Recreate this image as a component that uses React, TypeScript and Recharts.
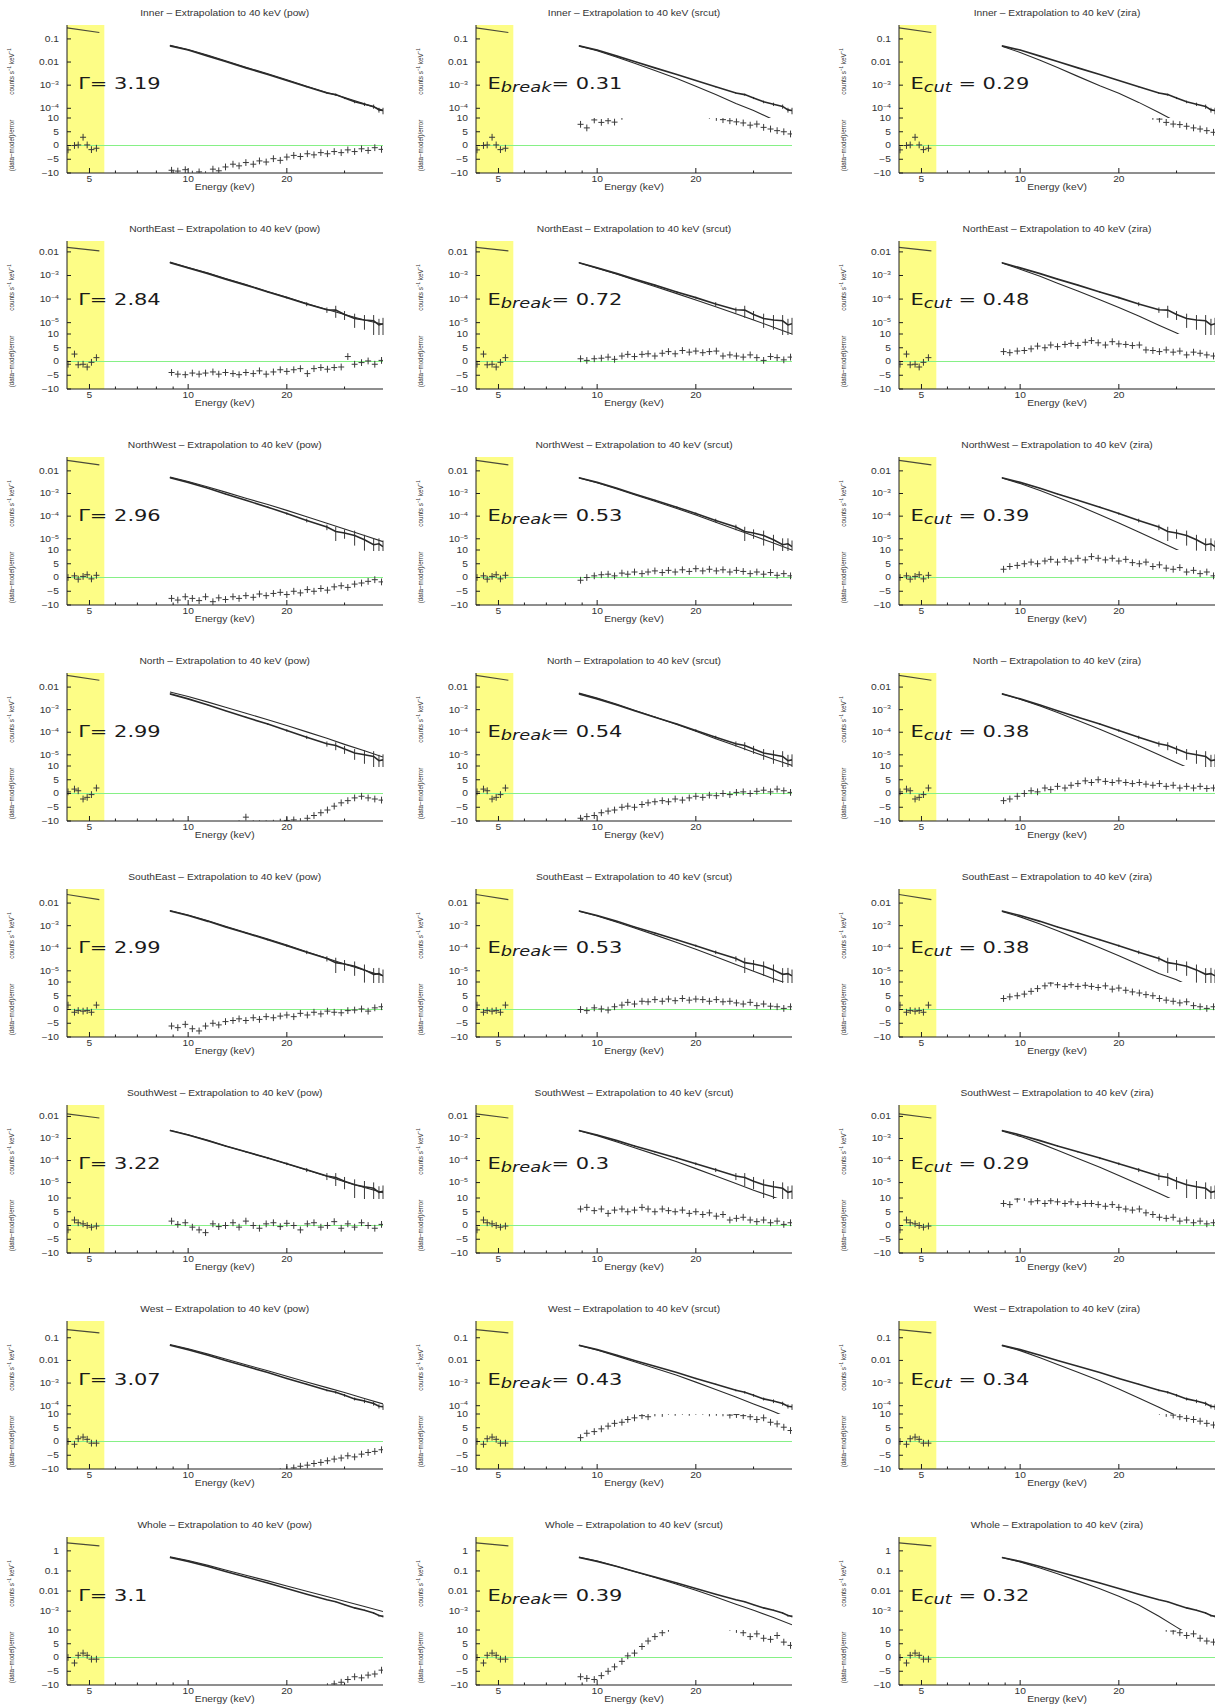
import React from 'react';
import { ComposedChart, Line, Scatter, XAxis, YAxis, ReferenceArea, ReferenceLine, ErrorBar } from 'recharts';

// ---------- categories / labels ----------
const REGIONS = ['Inner', 'NorthEast', 'NorthWest', 'North', 'SouthEast', 'SouthWest', 'West', 'Whole'];
const MODELS = ['pow', 'srcut', 'zira'];
const GAMMA = ['3.19', '2.84', '2.96', '2.99', '2.99', '3.22', '3.07', '3.1'];
const EBREAK = ['0.31', '0.72', '0.53', '0.54', '0.53', '0.3', '0.43', '0.39'];
const ECUT = ['0.29', '0.48', '0.39', '0.38', '0.38', '0.29', '0.34', '0.32'];

// ---------- energies (keV) ----------
const X_DOMAIN = [4.27, 39.3];
const X_TICKS = [5, 6, 7, 8, 9, 10, 20, 30];
const X_LABELED = [5, 10, 20];
const YELLOW_END = 5.55;
const E_DATA = [8.8, 10, 11.5, 13, 15, 17.5, 20, 23, 26.5, 28.2, 30, 32.2, 34.5, 36.8, 38.2, 39.3];
const E_MODEL = [8.8, 10, 11.5, 13, 15, 17.5, 20, 23, 26.5, 30, 34.5, 39.3];
const E_RES = [8.9, 9.3, 9.8, 10.3, 10.8, 11.3, 11.9, 12.4, 13.0, 13.7, 14.3, 15.0, 15.8, 16.5, 17.3, 18.2,
  19.1, 20.0, 21.0, 22.0, 23.1, 24.2, 25.4, 26.6, 27.9, 29.3, 30.7, 32.2, 33.8, 35.4, 37.1, 38.9];
const E_LOW_LINE = [4.27, 5.36];
const E_LOW_RES = [4.3, 4.5, 4.62, 4.78, 4.92, 5.07, 5.25];

// ---------- y axes per region ----------
const Y_DOMAIN = [[3.8e-5, 0.4], [3.3e-6, 0.029], [3.2e-6, 0.041], [3.2e-6, 0.042], [3.2e-6, 0.042], [2e-6, 0.033], [4.3e-5, 0.55], [1.15e-4, 4.9]];
const Y_TICKS = [[1e-4, 1e-3, 0.01, 0.1], [1e-5, 1e-4, 1e-3, 0.01], [1e-5, 1e-4, 1e-3, 0.01], [1e-5, 1e-4, 1e-3, 0.01],
  [1e-5, 1e-4, 1e-3, 0.01], [1e-5, 1e-4, 1e-3, 0.01], [1e-4, 1e-3, 0.01, 0.1], [1e-3, 0.01, 0.1, 1]];
const LOG_TICK_TEXT: Record<string, [string, string]> = {
  '0': ['1', ''], '-1': ['0.1', ''], '-2': ['0.01', ''], '-3': ['10', '−3'], '-4': ['10', '−4'], '-5': ['10', '−5'], '-6': ['10', '−6'],
};
const RES_TICKS = [-10, -5, 0, 5, 10];
const RES_TICK_TEXT: Record<string, string> = { '-10': '−10', '-5': '−5', '0': '0', '5': '5', '10': '10' };

// ---------- low band (yellow) ----------
const LOW_LINE = [[0.3, 0.19], [0.0155, 0.011], [0.029, 0.0185], [0.033, 0.02], [0.024, 0.0142], [0.013, 0.0085], [0.23, 0.165], [2.5, 1.78]];
const LOW_RES = [
  [-1.6, 0.0, 0.2, 3.0, 0.2, -1.5, -1.0],
  [-1.0, 2.7, -1.2, -1.0, -2.0, -0.3, 1.4],
  [0.0, 0.6, -0.6, 0.4, 1.0, -0.5, 0.8],
  [0.6, 1.6, 1.0, -2.0, -1.4, -0.4, 2.0],
  [1.6, -1.0, -0.4, -0.6, -0.4, -1.0, 1.6],
  [-1.6, 2.0, 1.0, 0.6, 0.0, -0.6, -0.2],
  [0.0, -1.0, 1.0, 1.6, 0.8, -0.6, -0.6],
  [0.0, -2.0, 0.8, 1.6, 0.8, -0.6, -0.6],
];

// ---------- spectra (counts s^-1 keV^-1) at E_DATA ----------
const DATA = [
  [0.05, 0.033, 0.018, 0.0105, 5.6e-3, 2.9e-3, 1.6e-3, 8.5e-4, 4.6e-4, 3.9e-4, 2.8e-4, 1.9e-4, 1.5e-4, 1.2e-4, 8.5e-5, 8e-5],
  [3.5e-3, 2.1e-3, 1.2e-3, 7.0e-4, 3.9e-4, 2.0e-4, 1.15e-4, 6.2e-5, 3.5e-5, 3.4e-5, 2.2e-5, 1.5e-5, 1.3e-5, 1.2e-5, 8e-6, 9e-6],
  [5e-3, 3.1e-3, 1.7e-3, 9.5e-4, 5e-4, 2.5e-4, 1.3e-4, 6.5e-5, 3.3e-5, 2.1e-5, 1.8e-5, 1.4e-5, 9e-6, 5.5e-6, 6e-6, 4.5e-6],
  [5e-3, 3.0e-3, 1.6e-3, 9e-4, 4.6e-4, 2.3e-4, 1.2e-4, 6e-5, 3.1e-5, 2.6e-5, 1.8e-5, 1.2e-5, 1e-5, 8.5e-6, 5.5e-6, 6e-6],
  [4.5e-3, 2.8e-3, 1.55e-3, 8.8e-4, 4.7e-4, 2.4e-4, 1.3e-4, 6.7e-5, 3.5e-5, 2.3e-5, 2e-5, 1.6e-5, 1.1e-5, 7e-6, 7.5e-6, 6e-6],
  [2.3e-3, 1.45e-3, 8e-4, 4.6e-4, 2.5e-4, 1.3e-4, 7.2e-5, 3.8e-5, 2.0e-5, 1.7e-5, 1.15e-5, 8e-6, 6.5e-6, 5.5e-6, 3.6e-6, 4e-6],
  [0.047, 0.03, 0.017, 0.01, 5.5e-3, 2.9e-3, 1.6e-3, 8.8e-4, 4.8e-4, 3.9e-4, 2.9e-4, 2.0e-4, 1.6e-4, 1.25e-4, 9.5e-5, 9e-5],
  [0.47, 0.3, 0.165, 0.095, 0.05, 0.025, 0.0135, 7e-3, 3.7e-3, 2.9e-3, 2.1e-3, 1.45e-3, 1.1e-3, 8e-4, 6e-4, 5.5e-4],
];
const DATA_LO = [
  [0.049, 0.032, 0.0175, 0.0102, 5.4e-3, 2.8e-3, 1.52e-3, 8.0e-4, 4.2e-4, 3.5e-4, 2.5e-4, 1.65e-4, 1.25e-4, 9.5e-5, 6.5e-5, 5.5e-5],
  [3.4e-3, 2.0e-3, 1.15e-3, 6.7e-4, 3.7e-4, 1.85e-4, 1.05e-4, 5.0e-5, 2.6e-5, 1.6e-5, 1.3e-5, 6e-6, 5e-6, 3e-6, 1.5e-6, 2e-6],
  [4.9e-3, 3.0e-3, 1.65e-3, 9.1e-4, 4.7e-4, 2.3e-4, 1.15e-4, 5.3e-5, 2.4e-5, 8e-6, 1e-5, 5e-6, 3e-6, 5e-7, 1.5e-6, 6e-7],
  [4.9e-3, 2.9e-3, 1.55e-3, 8.6e-4, 4.3e-4, 2.1e-4, 1.05e-4, 5.0e-5, 2.3e-5, 1.6e-5, 1.1e-5, 6e-6, 4e-6, 2.5e-6, 1e-6, 1.5e-6],
  [4.4e-3, 2.7e-3, 1.5e-3, 8.4e-4, 4.4e-4, 2.2e-4, 1.15e-4, 5.5e-5, 2.6e-5, 8e-6, 1e-5, 6e-6, 3e-6, 8e-7, 1.5e-6, 6e-7],
  [2.25e-3, 1.4e-3, 7.6e-4, 4.3e-4, 2.3e-4, 1.15e-4, 6.2e-5, 3.0e-5, 1.3e-5, 7e-6, 5e-6, 2e-6, 1.2e-6, 8e-7, 4e-7, 6e-7],
  [0.046, 0.029, 0.0165, 9.7e-3, 5.3e-3, 2.8e-3, 1.5e-3, 8.2e-4, 4.3e-4, 3.4e-4, 2.5e-4, 1.7e-4, 1.3e-4, 1.0e-4, 7.5e-5, 6.5e-5],
  [0.465, 0.297, 0.163, 0.094, 0.049, 0.0245, 0.013, 6.8e-3, 3.55e-3, 2.75e-3, 1.98e-3, 1.35e-3, 1.02e-3, 7.2e-4, 5.3e-4, 4.9e-4],
];

// ---------- folded models at E_MODEL ----------
const MODEL_POW = [
  [0.053, 0.035, 0.0195, 0.0113, 6.0e-3, 3.1e-3, 1.7e-3, 8.9e-4, 4.8e-4, 2.9e-4, 1.55e-4, 8.2e-5],
  [3.7e-3, 2.2e-3, 1.27e-3, 7.4e-4, 4.1e-4, 2.1e-4, 1.2e-4, 6.4e-5, 3.6e-5, 2.2e-5, 1.3e-5, 8.5e-6],
  [5.3e-3, 3.4e-3, 1.95e-3, 1.15e-3, 6.2e-4, 3.25e-4, 1.8e-4, 9.4e-5, 4.9e-5, 2.7e-5, 1.4e-5, 7.5e-6],
  [6e-3, 3.8e-3, 2.15e-3, 1.28e-3, 6.9e-4, 3.6e-4, 2e-4, 1.04e-4, 5.4e-5, 2.9e-5, 1.5e-5, 8e-6],
  [4.7e-3, 2.95e-3, 1.65e-3, 9.4e-4, 5e-4, 2.55e-4, 1.38e-4, 7e-5, 3.6e-5, 2e-5, 1.05e-5, 6e-6],
  [2.35e-3, 1.47e-3, 8.1e-4, 4.6e-4, 2.5e-4, 1.3e-4, 7.1e-5, 3.7e-5, 1.95e-5, 1.1e-5, 6e-6, 3.5e-6],
  [0.05, 0.033, 0.019, 0.0115, 6.4e-3, 3.5e-3, 2e-3, 1.12e-3, 6.3e-4, 3.8e-4, 2.1e-4, 1.2e-4],
  [0.5, 0.33, 0.19, 0.112, 0.061, 0.032, 0.018, 9.8e-3, 5.3e-3, 3.1e-3, 1.7e-3, 9.5e-4],
];
const MODEL_SRCUT = [
  [0.05, 0.031, 0.016, 8.8e-3, 4.3e-3, 1.95e-3, 9e-4, 3.9e-4, 1.6e-4, 8e-5, 3.2e-5, 1.2e-5],
  [3.5e-3, 2.05e-3, 1.12e-3, 6.4e-4, 3.4e-4, 1.7e-4, 9.2e-5, 4.7e-5, 2.4e-5, 1.3e-5, 6.4e-6, 3.3e-6],
  [4.9e-3, 3.0e-3, 1.6e-3, 8.9e-4, 4.6e-4, 2.2e-4, 1.12e-4, 5.4e-5, 2.6e-5, 1.35e-5, 6.5e-6, 3.2e-6],
  [5.4e-3, 3.25e-3, 1.72e-3, 9.4e-4, 4.7e-4, 2.2e-4, 1.1e-4, 5.2e-5, 2.5e-5, 1.3e-5, 6.4e-6, 3.4e-6],
  [4.4e-3, 2.7e-3, 1.42e-3, 7.8e-4, 3.9e-4, 1.8e-4, 9e-5, 4.2e-5, 1.9e-5, 9.5e-6, 4.5e-6, 2.3e-6],
  [2.25e-3, 1.35e-3, 7e-4, 3.8e-4, 1.9e-4, 8.8e-5, 4.3e-5, 2e-5, 9e-6, 4.5e-6, 2.2e-6, 1.1e-6],
  [0.046, 0.029, 0.0155, 8.8e-3, 4.5e-3, 2.2e-3, 1.1e-3, 5.2e-4, 2.4e-4, 1.2e-4, 5.5e-5, 2.5e-5],
  [0.49, 0.31, 0.165, 0.093, 0.047, 0.022, 0.011, 5e-3, 2.2e-3, 1.1e-3, 4.8e-4, 2.1e-4],
];
const MODEL_ZIRA = [
  [0.048, 0.026, 0.012, 5.8e-3, 2.4e-3, 9.5e-4, 4.5e-4, 1.8e-4, 6.5e-5, 2.6e-5, 8e-6, 2.5e-6],
  [3.4e-3, 1.85e-3, 9.2e-4, 4.7e-4, 2.2e-4, 9.4e-5, 4.4e-5, 1.9e-5, 7.8e-6, 3.6e-6, 1.4e-6, 5e-7],
  [4.8e-3, 2.75e-3, 1.35e-3, 6.8e-4, 3.0e-4, 1.15e-4, 5e-5, 2e-5, 7.8e-6, 3.4e-6, 1.3e-6, 4.5e-7],
  [5.1e-3, 2.9e-3, 1.45e-3, 7.5e-4, 3.3e-4, 1.35e-4, 6e-5, 2.5e-5, 1e-5, 4.5e-6, 1.8e-6, 7e-7],
  [4.3e-3, 2.45e-3, 1.18e-3, 6e-4, 2.6e-4, 1.05e-4, 4.6e-5, 1.9e-5, 7.6e-6, 4e-6, 1.6e-6, 6e-7],
  [2.2e-3, 1.25e-3, 6e-4, 2.9e-4, 1.25e-4, 5e-5, 2.1e-5, 8.5e-6, 3.3e-6, 1.4e-6, 5e-7, 1.8e-7],
  [0.045, 0.027, 0.013, 6.6e-3, 3e-3, 1.25e-3, 5.5e-4, 2.2e-4, 8.5e-5, 3.6e-5, 1.3e-5, 4.5e-6],
  [0.47, 0.28, 0.14, 0.072, 0.032, 0.013, 5.5e-3, 2e-3, 5.5e-4, 1.6e-4, 4e-5, 1e-5],
];

// ---------- residuals (data-model)/error at E_RES ----------
const RES_POW = [
  [-9, -9.3, -8.8, -10.4, -9.6, -10.6, -8.6, -9.2, -7.8, -6.8, -7.4, -6.2, -6.8, -5.6, -6.0, -4.8, -5.4, -4.2, -3.6, -4.0, -3.0, -3.4, -2.6, -3.0, -2.2, -2.6, -1.6, -2.2, -1.2, -1.8, -0.8, -1.4],
  [-4.0, -4.6, -4.8, -4.2, -4.6, -4.2, -3.8, -4.6, -4.0, -4.4, -4.8, -4.0, -4.4, -3.4, -4.6, -3.8, -3.0, -3.6, -3.0, -2.6, -4.4, -2.6, -2.2, -2.8, -2.2, -2.0, 1.8, -1.0, -0.4, 0.2, -1.0, 0.4],
  [-7.6, -8.2, -7.0, -7.6, -8.4, -7.0, -8.8, -7.4, -8.0, -7.0, -7.6, -6.6, -7.2, -6.0, -6.6, -5.8, -5.4, -6.2, -5.0, -5.6, -4.4, -5.0, -4.0, -4.6, -3.4, -3.0, -3.6, -2.4, -2.0, -1.4, -0.8, -1.6],
  [-13, -13, -13, -12.5, -12.5, -12, -12, -12, -11.5, -11.5, -11, -8.6, -11, -11, -11, -10.8, -10.4, -9.8, -9.6, -10.2, -9.0, -8.0, -7.0, -6.0, -4.6, -3.4, -2.6, -1.6, -1.0, -1.6, -2.0, -2.4],
  [-6.0, -6.6, -5.4, -7.0, -7.8, -6.0, -5.0, -5.6, -4.4, -4.0, -3.4, -4.0, -3.0, -3.6, -2.6, -3.0, -2.4, -2.0, -2.6, -1.4, -2.0, -1.0, -1.6, -0.6, -1.0, -1.2, -0.4, -0.2, 0.2, -0.6, 0.6, 1.0],
  [1.6, 0.4, 1.0, -0.6, -1.6, -2.6, 0.6, -0.4, 0.0, 1.0, -0.6, 1.6, 0.0, -1.0, 0.6, 1.0, -0.4, 0.8, 0.0, -1.6, 0.6, 1.0, -0.6, 0.0, 1.4, -1.0, 0.6, -0.6, 1.0, 0.0, -1.0, 0.4],
  [-15, -15, -15, -15, -14.5, -14.5, -14, -14, -13.5, -13.5, -13, -13, -12.5, -12.5, -12, -11.5, -11, -10.2, -9.6, -9.0, -8.6, -8.0, -7.6, -7.0, -6.4, -6.0, -5.2, -5.6, -4.6, -4.0, -3.6, -3.0],
  [-22, -22, -21, -21, -20, -20, -19, -19, -18, -18, -17, -17, -16, -16, -15, -15, -14, -14, -13.5, -13, -12.5, -12, -11.5, -10.6, -9.6, -9.0, -8.0, -7.0, -7.4, -6.4, -6.0, -4.6],
];
const RES_SRCUT = [
  [7.7, 6.4, 9.3, 8.4, 9.0, 8.5, 10.6, 11.5, 12.5, 13, 13.5, 14, 14.5, 14.5, 14, 14, 13.5, 13, 12, 11, 10.2, 9.4, 9.0, 8.6, 8.2, 7.4, 7.8, 6.6, 6.0, 5.4, 5.0, 4.2],
  [1.0, 0.4, 1.0, 1.2, 1.6, 0.8, 2.0, 2.6, 1.8, 2.6, 2.8, 2.0, 3.0, 3.6, 2.8, 4.0, 3.4, 3.8, 3.2, 3.6, 3.8, 2.0, 2.4, 2.0, 1.6, 2.4, 1.4, 0.4, 1.8, 1.4, 0.6, 1.6],
  [-1.0, 0.0, 0.6, 1.0, 1.2, 0.6, 1.6, 1.2, 2.0, 1.4, 2.0, 2.4, 1.8, 2.6, 2.0, 2.8, 2.2, 3.2, 2.4, 3.0, 2.4, 2.8, 2.0, 2.6, 2.2, 1.4, 2.0, 1.2, 1.8, 0.8, 1.4, 0.6],
  [-9.0, -8.4, -8.0, -7.0, -6.4, -6.0, -5.0, -4.6, -5.0, -4.0, -3.4, -3.0, -2.6, -3.0, -2.0, -2.4, -1.6, -1.0, -1.4, -0.6, -0.8, 0.0, -0.4, 0.4, 0.6, 0.0, 0.8, 1.2, 0.6, 1.6, 1.0, 0.4],
  [0.0, -0.4, 0.6, 0.2, -0.2, 1.0, 1.6, 2.6, 2.0, 3.0, 2.8, 3.6, 3.0, 3.8, 3.2, 4.0, 3.4, 3.8, 3.6, 3.0, 3.6, 2.8, 3.0, 2.4, 2.0, 2.6, 1.4, 2.0, 1.2, 1.0, 0.4, 1.0],
  [6.0, 6.6, 5.4, 6.0, 4.4, 5.6, 6.0, 5.0, 5.6, 6.6, 6.0, 5.0, 6.0, 5.4, 5.0, 5.6, 4.4, 5.0, 4.0, 4.6, 3.4, 4.0, 2.0, 2.6, 3.0, 2.0, 1.4, 2.0, 1.0, 1.6, 0.4, 1.0],
  [1.4, 3.0, 3.6, 4.6, 5.6, 6.6, 7.0, 8.0, 8.6, 9.4, 9.0, 10.4, 10.2, 11.0, 10.6, 11.0, 10.6, 11.0, 11.0, 10.4, 10.6, 10.4, 9.6, 9.8, 9.4, 9.0, 8.0, 8.6, 7.0, 6.4, 5.2, 4.0],
  [-7.0, -7.6, -8.0, -6.6, -5.0, -3.4, -1.4, 0.6, 1.6, 4.0, 6.0, 7.6, 9.0, 10.6, 11.5, 12, 12.5, 12.5, 12.5, 12, 12, 11.5, 11, 10.2, 9.0, 7.6, 8.6, 7.0, 6.6, 8.0, 5.6, 4.4],
];
const RES_ZIRA = [
  [15, 15, 16, 16, 17, 17, 17, 18, 18, 18, 18, 18, 18, 17, 17, 17, 16, 16, 15, 15, 14, 13, 10.6, 9.6, 8.4, 7.8, 7.6, 7.0, 6.4, 6.0, 5.4, 4.8],
  [3.6, 3.2, 3.8, 4.0, 4.6, 5.6, 5.0, 6.0, 5.4, 6.2, 6.6, 5.8, 7.0, 7.6, 6.8, 6.0, 7.2, 6.4, 6.2, 5.8, 6.0, 4.2, 4.0, 3.6, 4.2, 3.4, 3.8, 2.4, 3.4, 3.0, 2.4, 2.0],
  [3.0, 4.0, 4.4, 5.0, 5.6, 5.0, 6.0, 6.6, 5.6, 6.6, 6.0, 7.0, 6.4, 7.6, 7.0, 6.4, 7.0, 6.0, 6.6, 5.4, 5.0, 5.6, 4.0, 4.6, 3.4, 3.0, 3.6, 2.0, 2.6, 1.4, 2.0, 0.6],
  [-2.6, -2.0, -1.0, 0.0, 1.0, 0.6, 2.0, 1.4, 2.6, 2.0, 3.0, 3.6, 4.6, 4.0, 5.0, 4.4, 4.0, 4.6, 4.0, 3.6, 4.0, 3.4, 3.0, 3.6, 2.6, 3.0, 2.0, 2.6, 2.0, 2.6, 1.8, 2.0],
  [4.0, 4.6, 5.0, 5.6, 6.6, 7.6, 8.6, 9.6, 9.0, 8.4, 9.0, 8.4, 8.8, 8.4, 8.0, 8.6, 7.4, 7.8, 7.0, 6.4, 6.0, 5.4, 5.0, 4.0, 3.4, 3.0, 2.4, 2.8, 1.4, 1.0, 0.4, 1.0],
  [8.0, 7.6, 9.6, 10.2, 8.6, 9.0, 8.0, 9.0, 8.6, 8.0, 8.6, 7.6, 8.0, 8.0, 7.6, 7.0, 7.6, 6.6, 6.0, 5.6, 6.0, 4.6, 4.0, 3.0, 2.6, 3.0, 1.6, 2.0, 1.0, 1.6, 0.6, 1.0],
  [16, 16, 16, 16.5, 16.5, 17, 17, 17, 17.5, 17.5, 17.5, 17.5, 17, 17, 17, 16.5, 16, 16, 15, 14.5, 14, 13, 12, 11, 10.2, 9.6, 9.0, 8.4, 8.0, 7.4, 6.6, 6.0],
  [20, 20, 20, 20, 21, 21, 21, 21, 21, 21, 21, 21, 20, 20, 20, 19, 19, 18, 17, 16, 15, 14, 13, 12, 10.6, 9.6, 9.0, 8.0, 8.6, 7.0, 6.0, 5.6],
];

// ---------- layout & style ----------
const FONT = '"Liberation Sans", Arial, Helvetica, sans-serif';
const BIG_FONT = '"DejaVu Sans", Verdana, sans-serif';
const SX = 1.25;
const W = 316, HT = 93, HB = 55, YW = 60, PAD = 7;
const COL_X = [66.7, 476, 899];
const ROW_Y0 = 25, ROW_DY = 216;
const YELLOW = '#fdfd86';
const GREEN = '#86f086';
const INK = '#2a2a2a';
const AX = { stroke: '#1e1e1e', strokeWidth: 1 };

function XTickMark(props: any) {
  const { x, y, payload, dir, showLabel } = props;
  const v = payload.value;
  const major = X_LABELED.indexOf(v) >= 0;
  const len = major ? 5 : 2.5;
  return (
    <g>
      <line x1={x} x2={x} y1={y} y2={y + dir * len} stroke="#1e1e1e" strokeWidth={1} />
      {showLabel && major ? (
        <text transform={`translate(${x},${y + 8.6}) scale(${SX},1)`} textAnchor="middle" fontSize={8.2} fill="#333" fontFamily={FONT}>
          {String(v)}
        </text>
      ) : null}
    </g>
  );
}

function YTickMark(props: any) {
  const { x, y, payload, dir, kind } = props;
  const v = payload.value;
  let label: any = null;
  if (kind === 'log') {
    const e = String(Math.round(Math.log10(v)));
    const t = LOG_TICK_TEXT[e] || ['', ''];
    label = (
      <text transform={`translate(${x - 8},${y + 2.9}) scale(${SX},1)`} textAnchor="end" fontSize={8.2} fill="#333" fontFamily={FONT}>
        {t[0]}
        {t[1] ? <tspan dy={-3.2} fontSize={5.6}>{t[1]}</tspan> : null}
      </text>
    );
  } else if (kind === 'res') {
    label = (
      <text transform={`translate(${x - 8},${y + 2.9}) scale(${SX},1)`} textAnchor="end" fontSize={8.2} fill="#333" fontFamily={FONT}>
        {RES_TICK_TEXT[String(v)]}
      </text>
    );
  }
  return (
    <g>
      <line x1={x} x2={x + dir * 4} y1={y} y2={y} stroke="#1e1e1e" strokeWidth={1} />
      {label}
    </g>
  );
}

function Cross(props: any) {
  const { cx, cy } = props;
  if (cx == null || cy == null || isNaN(cx) || isNaN(cy)) return <g />;
  return (
    <g stroke="#3a3a3a" strokeWidth={1}>
      <line x1={cx - 3} x2={cx + 3} y1={cy} y2={cy} />
      <line x1={cx} x2={cx} y1={cy - 3.4} y2={cy + 3.4} />
    </g>
  );
}

function Panel({ r, c }: { r: number; c: number }) {
  const left = COL_X[c] - YW;
  const top = ROW_Y0 + r * ROW_DY - 1;
  const models = [MODEL_POW, MODEL_SRCUT, MODEL_ZIRA][c][r];
  const resVals = [RES_POW, RES_SRCUT, RES_ZIRA][c][r];
  const dataPts = E_DATA.map((x, i) => {
    const d = DATA[r][i] - DATA_LO[r][i];
    return { x, y: DATA[r][i], err: [d, d] };
  });
  const modelPts = E_MODEL.map((x, i) => ({ x, y: models[i] }));
  const lowPts = E_LOW_LINE.map((x, i) => ({ x, y: LOW_LINE[r][i] }));
  const resPts = E_RES.map((x, i) => ({ x, y: resVals[i] })).filter((p) => Math.abs(p.y) <= 11);
  const lowResPts = E_LOW_RES.map((x, i) => ({ x, y: LOW_RES[r][i] }));
  const xCommon = {
    dataKey: 'x', type: 'number' as const, scale: 'log' as const, domain: X_DOMAIN, allowDataOverflow: true,
    ticks: X_TICKS, interval: 0, tickSize: 0, tickMargin: 0, tickLine: false, axisLine: AX,
  };
  return (
    <>
      <div style={{ position: 'absolute', left, top }}>
        <ComposedChart width={YW + W + 2} height={HT + 2} margin={{ top: 1, right: 2, bottom: 1, left: 0 }}>
          <XAxis xAxisId="b" {...xCommon} height={0} tick={(p: any) => <XTickMark {...p} dir={-1} showLabel={false} />} />
          <XAxis xAxisId="t" orientation="top" {...xCommon} height={0} tick={(p: any) => <XTickMark {...p} dir={1} showLabel={false} />} />
          <YAxis yAxisId="l" dataKey="y" type="number" scale="log" domain={Y_DOMAIN[r]} allowDataOverflow ticks={Y_TICKS[r]} interval={0}
            width={YW} tickSize={0} tickMargin={0} tickLine={false} axisLine={AX} tick={(p: any) => <YTickMark {...p} dir={1} kind="log" />} />
          <YAxis yAxisId="r" orientation="right" dataKey="y" type="number" scale="log" domain={Y_DOMAIN[r]} allowDataOverflow ticks={Y_TICKS[r]} interval={0}
            width={0} tickSize={0} tickMargin={0} tickLine={false} axisLine={AX} tick={(p: any) => <YTickMark {...p} dir={-1} kind="none" />} />
          <ReferenceArea xAxisId="b" yAxisId="l" x1={X_DOMAIN[0]} x2={YELLOW_END} fill={YELLOW} fillOpacity={1} stroke="none" />
          <Line xAxisId="b" yAxisId="l" data={lowPts} dataKey="y" stroke="#4a4a3a" strokeWidth={1.2} dot={false} isAnimationActive={false} />
          <Line xAxisId="b" yAxisId="l" data={modelPts} dataKey="y" stroke={INK} strokeWidth={1.1} dot={false} isAnimationActive={false} />
          <Line xAxisId="b" yAxisId="l" data={dataPts} dataKey="y" stroke={INK} strokeWidth={1.6} dot={false} isAnimationActive={false}>
            <ErrorBar dataKey="err" direction="y" width={0} stroke="#3a3a3a" strokeWidth={1} />
          </Line>
        </ComposedChart>
      </div>
      <div style={{ position: 'absolute', left, top: top + HT + 1 - PAD }}>
        <ComposedChart width={YW + W + 2} height={PAD + HB + 22} margin={{ top: PAD, right: 2, bottom: 0, left: 0 }}>
          <XAxis xAxisId="b" {...xCommon} height={22} tick={(p: any) => <XTickMark {...p} dir={-1} showLabel={true} />} />
          <XAxis xAxisId="t" orientation="top" {...xCommon} height={0} tick={(p: any) => <XTickMark {...p} dir={1} showLabel={false} />} />
          <YAxis yAxisId="l" dataKey="y" type="number" domain={[-10, 10]} allowDataOverflow ticks={RES_TICKS} interval={0}
            width={YW} tickSize={0} tickMargin={0} tickLine={false} axisLine={AX} tick={(p: any) => <YTickMark {...p} dir={1} kind="res" />} />
          <YAxis yAxisId="r" orientation="right" dataKey="y" type="number" domain={[-10, 10]} allowDataOverflow ticks={RES_TICKS} interval={0}
            width={0} tickSize={0} tickMargin={0} tickLine={false} axisLine={AX} tick={(p: any) => <YTickMark {...p} dir={-1} kind="none" />} />
          <ReferenceArea xAxisId="b" yAxisId="l" x1={X_DOMAIN[0]} x2={YELLOW_END} fill={YELLOW} fillOpacity={1} stroke="none" />
          <ReferenceLine xAxisId="b" yAxisId="l" y={0} stroke={GREEN} strokeWidth={1.2} />
          <Scatter xAxisId="b" yAxisId="l" data={lowResPts} dataKey="y" shape={Cross} isAnimationActive={false} />
          <Scatter xAxisId="b" yAxisId="l" data={resPts} dataKey="y" shape={Cross} isAnimationActive={false} />
        </ComposedChart>
      </div>
    </>
  );
}

function Annotation({ r, c, x, y }: { r: number; c: number; x: number; y: number }) {
  const common = { transform: `translate(${x},${y}) scale(1.27,1)`, fontSize: 16.5, fill: '#1a1a1a', fontFamily: BIG_FONT };
  if (c === 0) return <text {...common}>{`Γ= ${GAMMA[r]}`}</text>;
  if (c === 1)
    return (
      <text {...common}>
        E<tspan fontSize={14} fontStyle="italic" dy={2.5}>break</tspan>
        <tspan dy={-2.5}>{`= ${EBREAK[r]}`}</tspan>
      </text>
    );
  return (
    <text {...common}>
      E<tspan fontSize={14} fontStyle="italic" dy={2.5}>cut</tspan>
      <tspan dy={-2.5}>{` = ${ECUT[r]}`}</tspan>
    </text>
  );
}

function Texts() {
  const items: any[] = [];
  REGIONS.forEach((reg, r) => {
    MODELS.forEach((mod, c) => {
      const fx = COL_X[c];
      const fy = ROW_Y0 + r * ROW_DY;
      const k = `${r}-${c}`;
      items.push(
        <text key={'t' + k} transform={`translate(${fx + W / 2},${fy - 8.8}) scale(${SX},1)`} textAnchor="middle" fontSize={8.2} fill="#333" fontFamily={FONT}>
          {`${reg} – Extrapolation to 40 keV (${mod})`}
        </text>
      );
      items.push(
        <text key={'e' + k} transform={`translate(${fx + W / 2},${fy + HT + HB + 16.6}) scale(${SX},1)`} textAnchor="middle" fontSize={8.2} fill="#333" fontFamily={FONT}>
          Energy (keV)
        </text>
      );
      items.push(
        <text key={'yc' + k} transform={`translate(${fx - 53},${fy + HT / 2}) scale(${SX},1) rotate(-90)`} textAnchor="middle" fontSize={6.4} fill="#333" fontFamily={FONT}>
          counts s<tspan dy={-2.4} fontSize={4.4}>−1</tspan><tspan dy={2.4}> keV</tspan><tspan dy={-2.4} fontSize={4.4}>−1</tspan>
        </text>
      );
      items.push(
        <text key={'yr' + k} transform={`translate(${fx - 53},${fy + HT + HB / 2}) scale(${SX},1) rotate(-90)`} textAnchor="middle" fontSize={6.2} fill="#333" fontFamily={FONT}>
          (data−model)/error
        </text>
      );
      items.push(<Annotation key={'a' + k} r={r} c={c} x={fx + 11.5} y={fy + 64} />);
    });
  });
  return (
    <svg width={1215} height={1704} style={{ position: 'absolute', left: 0, top: 0, pointerEvents: 'none' }}>
      {items}
    </svg>
  );
}

export default function App() {
  const panels: any[] = [];
  for (let r = 0; r < REGIONS.length; r++) {
    for (let c = 0; c < MODELS.length; c++) {
      panels.push(<Panel key={`${r}-${c}`} r={r} c={c} />);
    }
  }
  return (
    <div style={{ position: 'absolute', left: 0, top: 0, width: 1215, height: 1704, overflow: 'hidden', background: '#fff' }}>
      {panels}
      <Texts />
    </div>
  );
}
